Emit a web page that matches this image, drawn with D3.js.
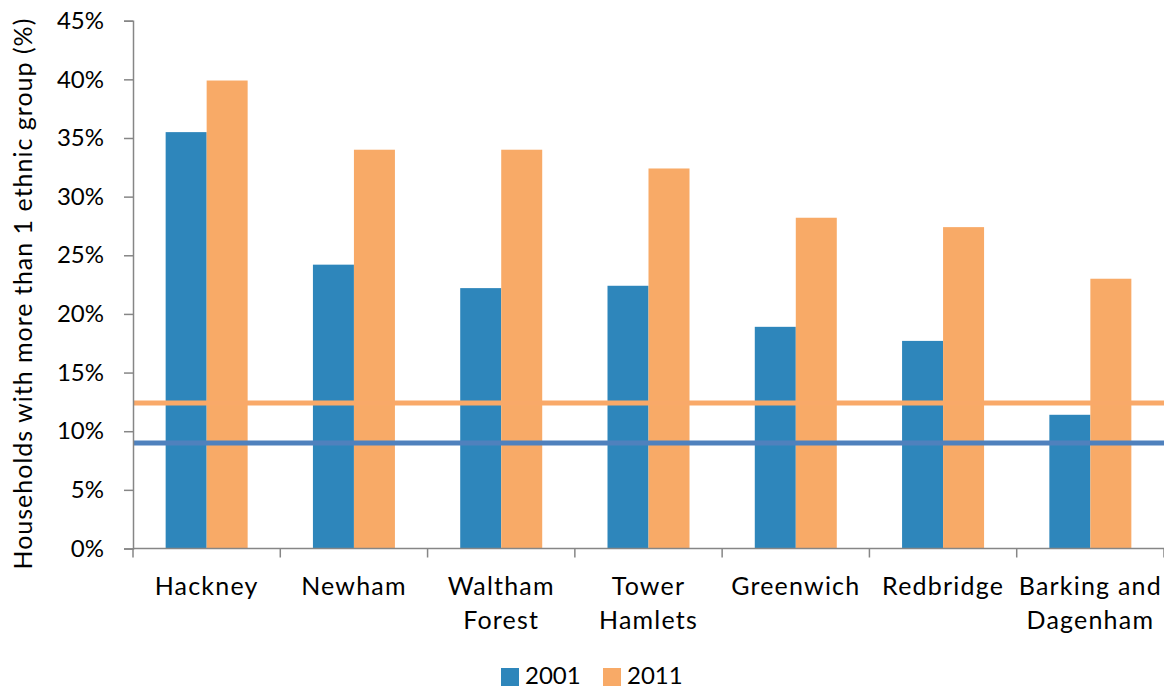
<!DOCTYPE html>
<html>
<head>
<meta charset="utf-8">
<script src="https://cdn.jsdelivr.net/npm/d3@7"></script>
<style>
  html, body { margin: 0; padding: 0; background: #fff; }
  svg { display: block; font-family: Lato, "Open Sans", sans-serif; }
</style>
</head>
<body>
<svg id="chart" width="1164" height="690"></svg>
<script>
// Boroughs and the share of households with members of more than one ethnic group
const boroughs = ["Hackney", "Newham", "Waltham Forest", "Tower Hamlets", "Greenwich", "Redbridge", "Barking and Dagenham"];
const boroughLines = [["Hackney"], ["Newham"], ["Waltham", "Forest"], ["Tower", "Hamlets"], ["Greenwich"], ["Redbridge"], ["Barking and", "Dagenham"]];
const years = ["2001", "2011"];
const values2001 = [35.5, 24.2, 22.2, 22.4, 18.9, 17.7, 11.4];
const values2011 = [39.9, 34.0, 34.0, 32.4, 28.2, 27.4, 23.0];
// London-wide averages shown as reference lines
const londonAverage = { "2001": 9.0, "2011": 12.4 };
const yTicks = [0, 5, 10, 15, 20, 25, 30, 35, 40, 45];
const yTitle = "Households with more than 1 ethnic group (%)";

const barColors = { "2001": "#2E86BB", "2011": "#F8AA67" };
const lineColors = { "2001": "#4F81BD", "2011": "#F9A969" };

const svg = d3.select("#chart");
const plotLeft = 133, plotRight = 1164, plotTop = 20.7, plotBottom = 548.5;

const x = d3.scaleBand().domain(boroughs).range([plotLeft, plotRight]).paddingInner(0).paddingOuter(0);
const y = d3.scaleLinear().domain([0, 45]).range([plotBottom, plotTop]);
const groupWidth = 82;
const xs = d3.scaleBand().domain(years).range([0, groupWidth]);

const series = { "2001": values2001, "2011": values2011 };

// Bars
const g = svg.append("g");
boroughs.forEach((b, i) => {
  const x0 = x(b) + (x.bandwidth() - groupWidth) / 2;
  years.forEach(yr => {
    g.append("rect")
      .attr("x", x0 + xs(yr))
      .attr("y", y(series[yr][i]))
      .attr("width", xs.bandwidth())
      .attr("height", y(0) - y(series[yr][i]))
      .attr("fill", barColors[yr]);
  });
});

// Average lines
years.forEach(yr => {
  svg.append("line")
    .attr("x1", plotLeft).attr("x2", plotRight)
    .attr("y1", y(londonAverage[yr])).attr("y2", y(londonAverage[yr]))
    .attr("stroke", lineColors[yr])
    .attr("stroke-width", 5);
});

// Y axis
const yAxis = d3.axisLeft(y).tickValues(yTicks).tickFormat(d => d + "%").tickSize(9).tickPadding(20);
const yg = svg.append("g").attr("transform", `translate(${plotLeft},0)`).call(yAxis);
yg.select(".domain").attr("stroke", "#868686").attr("stroke-width", 1.5);
yg.selectAll(".tick line").attr("stroke", "#868686").attr("stroke-width", 1.5);
yg.selectAll(".tick text").attr("fill", "#000").attr("font-size", 24).attr("font-family", "Lato, sans-serif");

// X axis with tick marks at band boundaries
const xg = svg.append("g");
xg.append("line").attr("x1", plotLeft).attr("x2", plotRight).attr("y1", plotBottom).attr("y2", plotBottom)
  .attr("stroke", "#868686").attr("stroke-width", 1.5);
const bounds = boroughs.map(b => x(b)).concat([plotRight]);
xg.selectAll("line.tk").data(bounds).enter().append("line")
  .attr("class", "tk")
  .attr("x1", d => d).attr("x2", d => d)
  .attr("y1", plotBottom).attr("y2", plotBottom + 9)
  .attr("stroke", "#868686").attr("stroke-width", 1.5);

// Category labels
boroughs.forEach((b, i) => {
  const cx = x(b) + x.bandwidth() / 2;
  const t = svg.append("text")
    .attr("x", cx)
    .attr("y", 595)
    .attr("text-anchor", "middle")
    .attr("font-size", 25)
    .attr("letter-spacing", 1.2)
    .attr("fill", "#000");
  boroughLines[i].forEach((ln, j) => {
    t.append("tspan").attr("x", cx).attr("dy", j === 0 ? 0 : 34).text(ln);
  });
});

// Y axis title
svg.append("text")
  .attr("transform", `translate(32,${(plotTop + plotBottom) / 2 + 9}) rotate(-90)`)
  .attr("text-anchor", "middle")
  .attr("font-size", 25)
  .attr("letter-spacing", 1)
  .attr("fill", "#000")
  .text(yTitle);

// Legend
const legend = svg.append("g");
const legendX = [501, 603];
years.forEach((yr, i) => {
  legend.append("rect").attr("x", legendX[i]).attr("y", 668).attr("width", 18).attr("height", 18).attr("fill", barColors[yr]);
  legend.append("text").attr("x", legendX[i] + 24).attr("y", 684).attr("font-size", 24).attr("fill", "#000").text(yr);
});
</script>
</body>
</html>
